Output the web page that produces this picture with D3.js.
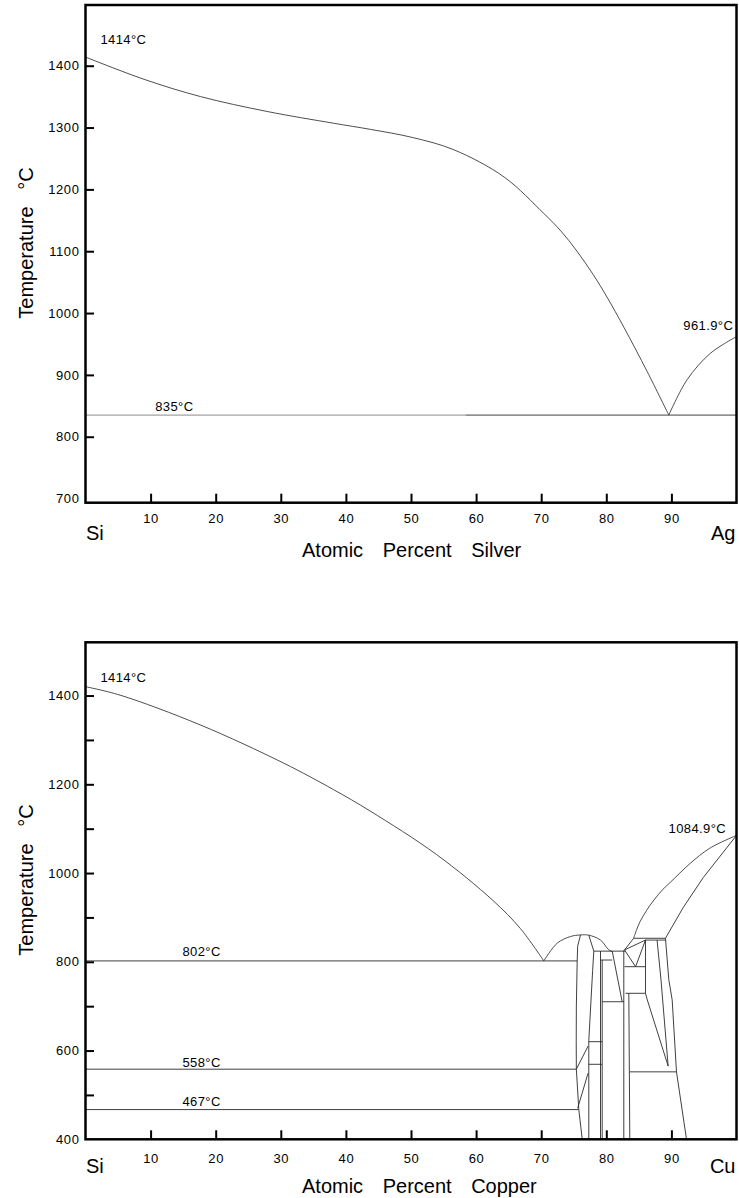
<!DOCTYPE html>
<html><head><meta charset="utf-8">
<script src="https://cdn.jsdelivr.net/npm/d3@7"></script>
<style>
body{margin:0;background:#fff}
svg{display:block}
text{font-family:"Liberation Sans",Arial,Helvetica,sans-serif;fill:#000}
</style></head><body>
<svg id="c" width="739" height="1198"></svg>
<script>
// ================= DATA =================
const xTicks = [10,20,30,40,50,60,70,80,90];

// ---- Ag-Si (top) ----
const agYTicks = [800,900,1000,1100,1200,1300,1400];
const agYLabels = [700,800,900,1000,1100,1200,1300,1400];
const agLiquidusSi = [[0,1414],[9,1378],[17.7,1350],[27.9,1326],[38.1,1307],[43.8,1297],[50.2,1284],[56.6,1264],[64.3,1220],[70.4,1161],[73,1133],[75.5,1100],[78,1062],[80.1,1026],[82.7,977],[86.3,905],[89.6,835]];
const agLiquidusAg = [[89.6,835],[92.4,892],[96,935],[100,961.9]];
const agEutecticGrey = [[0,835],[58.4,835]];
const agEutecticDark = [[58.4,835],[100,835]];
const agLabels = [
  {text:"1414°C", p:2.3, T:1435, anchor:"start"},
  {text:"835°C", p:10.7, T:841.6, anchor:"start"},
  {text:"961.9°C", p:99.5, T:972.6, anchor:"end"}
];

// ---- Cu-Si (bottom) ----
const cuYTicks = [500,600,700,800,900,1000,1100,1200,1300,1400];
const cuYLabels = [400,600,800,1000,1200,1400];
const cuLiquidusSi = [[0,1420],[5.3,1401],[17.6,1334],[30.4,1248],[38.1,1188],[43.7,1140],[53.9,1042],[62.6,938],[66.8,875],[70.4,802]];
const cuLiquidusEta = [[70.4,802],[72.46,842],[74.5,857],[76.04,860.5],[77.31,860],[79.11,849],[80.38,827],[80.9,823]];
const cuLiquidusCu = [[84.2,853],[84.6,870],[85.2,891],[86.2,916],[87.2,937],[88.75,964],[89.9,980],[92.9,1022],[95.9,1056],[100,1084.9]];
const cuSolidusCu = [[89.09,853],[91.8,922],[94.9,990],[100,1084.9]];
const cuLine802 = [[0,802],[75.53,802]];
const cuLine558 = [[0,558],[75.4,558]];
const cuLine467 = [[0,467],[75.78,467]];
const cuPhaseBoundaries = [
  [[76.04,860.5],[75.6,835],[75.53,802],[75.4,700],[75.38,620],[75.4,558],[75.78,467],[76.3,400]],
  [[77.31,860],[78.08,824],[77.9,780],[77.31,622],[77.31,400]],
  [[75.4,558],[77.2,610]],
  [[75.6,470],[77.2,549]],
  [[77.31,620],[79.37,620]],
  [[77.31,569],[79.37,569]],
  [[78.08,824],[82.95,824]],
  [[79.11,804],[80.91,804]],
  [[79.11,824],[79.11,400]],
  [[79.37,804],[79.37,400]],
  [[80.91,824],[82.44,710]],
  [[79.37,710],[82.69,710]],
  [[82.69,826],[82.69,400]],
  [[83.46,729],[83.61,400]],
  [[82.8,826.7],[84.2,853]],
  [[82.8,826.7],[86.02,849]],
  [[82.8,826.7],[84.5,789],[86.02,849]],
  [[82.8,789],[86.02,789]],
  [[86.02,849],[86.02,729]],
  [[82.95,729],[86.02,729]],
  [[84.2,853],[89.09,853]],
  [[86.02,849],[89.09,849]],
  [[86.02,729],[86.3,714],[89.5,565]],
  [[87.8,849],[88.4,760],[89.5,565]],
  [[89.09,853],[89.6,760],[90.12,714],[90.78,552],[92.32,400]],
  [[83.61,552],[90.78,552]]
];
const cuLabels = [
  {text:"1414°C", p:2.3, T:1431, anchor:"start"},
  {text:"802°C", p:14.9, T:813, anchor:"start"},
  {text:"558°C", p:14.9, T:563.6, anchor:"start"},
  {text:"467°C", p:14.9, T:475, anchor:"start"},
  {text:"1084.9°C", p:98.4, T:1091, anchor:"end"}
];

// ================= DRAW =================
const svg = d3.select("#c");

function panel(cfg){
  const x = d3.scaleLinear().domain([0,100]).range([85.5,736.5]);
  const y = d3.scaleLinear().domain(cfg.yDomain).range(cfg.yRange);
  const g = svg.append("g");
  const smooth = d3.line().x(d=>x(d[0])).y(d=>y(d[1])).curve(d3.curveCatmullRom.alpha(0.5));
  const straight = d3.line().x(d=>x(d[0])).y(d=>y(d[1]));

  cfg.curves.forEach(c=>{
    g.append("path").attr("d", smooth(c)).attr("fill","none")
      .attr("stroke","#3a3a3a").attr("stroke-width",0.9);
  });
  (cfg.greyLines||[]).forEach(c=>{
    g.append("path").attr("d", straight(c)).attr("fill","none")
      .attr("stroke","#8a8a8a").attr("stroke-width",1);
  });
  (cfg.lines||[]).forEach(c=>{
    g.append("path").attr("d", straight(c)).attr("fill","none")
      .attr("stroke","#2a2a2a").attr("stroke-width",0.9);
  });

  // frame
  g.append("rect").attr("x",x(0)).attr("y",y.range()[1])
    .attr("width",x(100)-x(0)).attr("height",y.range()[0]-y.range()[1])
    .attr("fill","none").attr("stroke","#000").attr("stroke-width",2.5);

  // axes
  const ax = g.append("g").attr("transform",`translate(0,${y.range()[0]})`)
    .call(d3.axisBottom(x).tickValues(xTicks).tickSize(-9).tickPadding(cfg.xPad).tickFormat(d3.format("d")));
  const ay = g.append("g").attr("transform",`translate(${x(0)},0)`)
    .call(d3.axisLeft(y).tickValues(cfg.yTicks).tickSize(-8.5).tickPadding(6)
      .tickFormat(d=> cfg.yLabels.includes(d) ? d : ""));
  cfg.yLabels.filter(v=>!cfg.yTicks.includes(v)).forEach(v=>{
    g.append("text").attr("x",x(0)-6).attr("y",y(v)).attr("dy","0.36em")
      .attr("text-anchor","end").attr("class","tl").text(v);
  });
  [ax,ay].forEach(a=>{
    a.select(".domain").remove();
    a.selectAll(".tick line").attr("stroke","#000").attr("stroke-width",2);
    a.selectAll("text").attr("class","tl");
    a.attr("font-family",null).attr("font-size",null);
  });
  g.selectAll(".tl").style("font-size","13px").style("letter-spacing","0.6px").attr("fill","#000");

  cfg.labels.forEach(l=>{
    g.append("text").attr("x",x(l.p)).attr("y",y(l.T)).attr("text-anchor",l.anchor)
      .style("font-size","13px").style("letter-spacing","0.4px").text(l.text);
  });

  g.append("text").attr("x",x(0)+0.5).attr("y",cfg.elemY).style("font-size","20px").text("Si");
  g.append("text").attr("x",x(100)-1).attr("y",cfg.elemY).attr("text-anchor","end")
    .style("font-size","20px").text(cfg.right);

  g.append("text").attr("x",302).attr("y",cfg.titleY).style("font-size","20px")
    .style("word-spacing","14px").text("Atomic Percent " + cfg.metal);

  g.append("text").attr("transform",`translate(33,${cfg.yTitleC}) rotate(-90)`)
    .attr("text-anchor","middle").attr("xml:space","preserve")
    .style("white-space","pre").style("font-size","20px").text("Temperature   °C");
}

panel({
  yDomain:[693.3,1498.2], yRange:[502.7,5],
  yTicks:agYTicks, yLabels:agYLabels, xPad:11,
  curves:[agLiquidusSi, agLiquidusAg],
  greyLines:[agEutecticGrey], lines:[agEutecticDark],
  labels:agLabels, elemY:540, right:"Ag", metal:"Silver",
  titleY:556.5, yTitleC:243
});

panel({
  yDomain:[400,1520], yRange:[1139.3,642.3],
  yTicks:cuYTicks, yLabels:cuYLabels, xPad:14,
  curves:[cuLiquidusSi, cuLiquidusEta, cuLiquidusCu],
  greyLines:[],
  lines:[cuLine802, cuLine558, cuLine467, cuSolidusCu].concat(cuPhaseBoundaries),
  labels:cuLabels, elemY:1173, right:"Cu", metal:"Copper",
  titleY:1193, yTitleC:880
});
</script>
</body></html>
